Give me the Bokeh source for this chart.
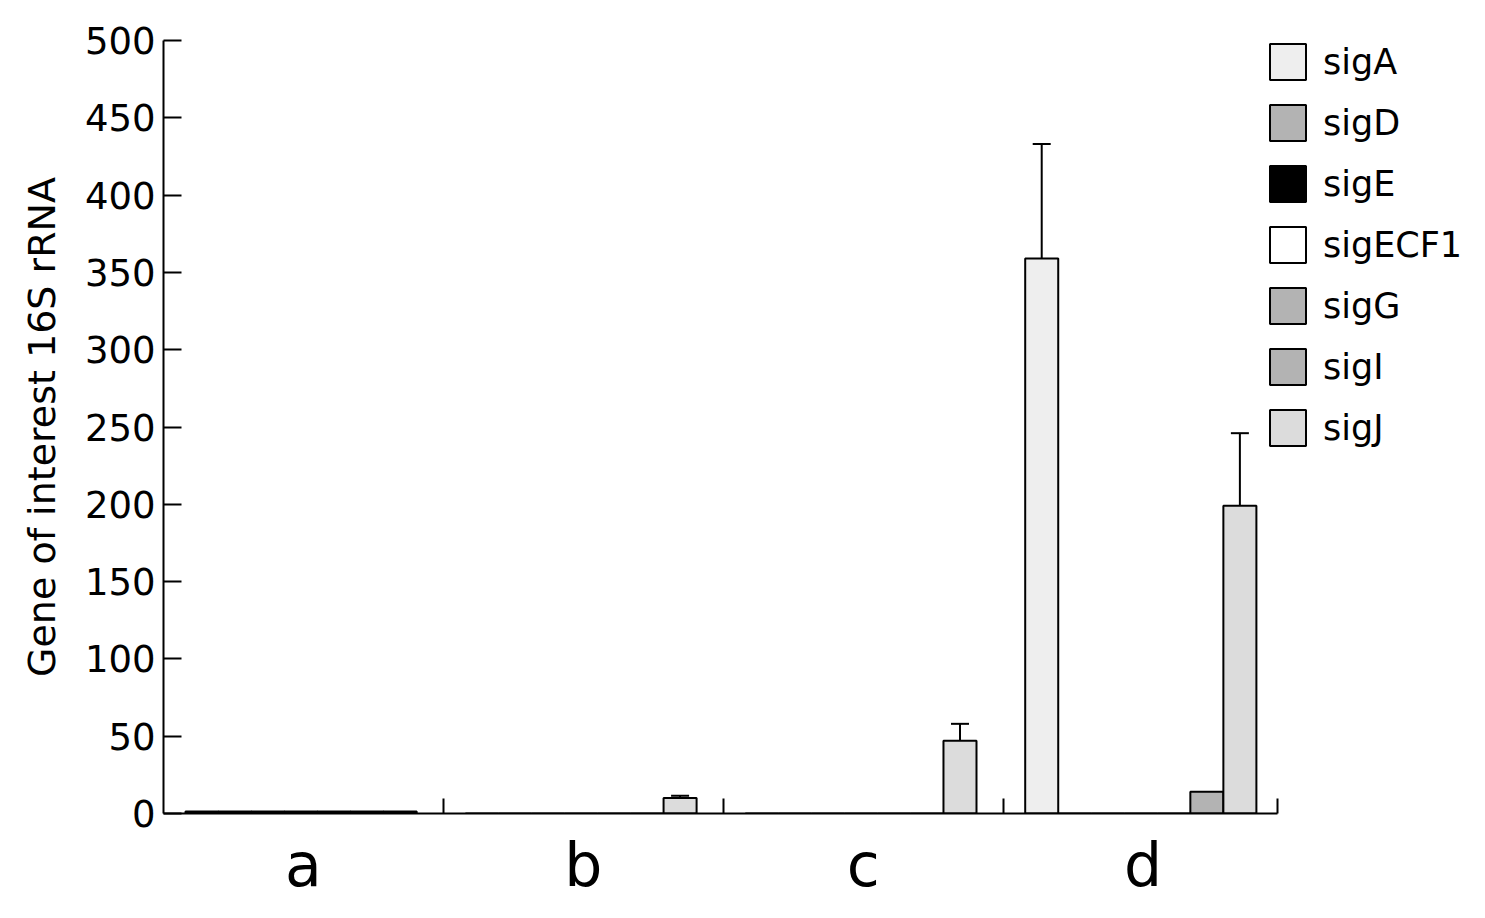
from bokeh.plotting import figure
from bokeh.models import (ColumnDataSource, FixedTicker, LinearAxis, Range1d,
                          Legend, LegendItem, Whisker)
from bokeh.embed import file_html
from bokeh.resources import INLINE

groups = ["a", "b", "c", "d"]
series = ["sigA", "sigD", "sigE", "sigECF1", "sigG", "sigI", "sigJ"]
colors = ["#eeeeee", "#b3b3b3", "#000000", "#ffffff", "#b3b3b3", "#b3b3b3", "#dcdcdc"]

# values[series][group]
sigA = [1.3, 0.0, 0.0, 359.0]
sigD = [1.3, 0.0, 0.0, 0.0]
sigE = [1.3, 0.0, 0.0, 0.0]
sigECF1 = [1.3, 0.0, 0.0, 0.0]
sigG = [1.3, 0.0, 0.0, 0.0]
sigI = [1.3, 0.0, 0.0, 14.0]
sigJ = [1.3, 10.0, 47.0, 199.0]
values = [sigA, sigD, sigE, sigECF1, sigG, sigI, sigJ]

# upper error (SD) values
err_sigA = [0.0, 0.0, 0.0, 74.0]
err_sigJ = [0.0, 1.5, 11.0, 47.0]

y_ticks = [0, 50, 100, 150, 200, 250, 300, 350, 400, 450, 500]

FONT = "DejaVu Sans"
W, H = 1469, 902
LEFT, TOP, BOTTOM = 163, 40, 89
PX_PER_GROUP = 279.9
x_end = (W - LEFT) / PX_PER_GROUP

p = figure(width=W, height=H, output_backend="svg", toolbar_location=None,
           x_range=Range1d(0, x_end), y_range=Range1d(0, 500),
           min_border_left=LEFT, min_border_right=0, min_border_top=TOP,
           min_border_bottom=BOTTOM, x_axis_location=None, y_axis_location=None)
p.grid.visible = False
p.outline_line_color = None
p.background_fill_color = "white"

pad = 0.0786
bw = 0.118

renderers = []
for i, (name, vals, col) in enumerate(zip(series, values, colors)):
    xs = [g + pad + bw * (i + 0.5) for g in range(len(groups))]
    src = ColumnDataSource(dict(x=xs, top=vals))
    r = p.vbar(x="x", top="top", bottom=0, width=bw, source=src,
               fill_color=col, line_color="black", line_width=2)
    renderers.append(r)

    errs = None
    if name == "sigA":
        errs = err_sigA
    elif name == "sigJ":
        errs = err_sigJ
    if errs is not None:
        ex, lo, up = [], [], []
        for x, v, e in zip(xs, vals, errs):
            if e > 0:
                ex.append(x); lo.append(v); up.append(v + e)
        esrc = ColumnDataSource(dict(x=ex, lower=lo, upper=up))
        wk = Whisker(base="x", lower="lower", upper="upper", source=esrc,
                     line_color="black", line_width=2, dimension="height")
        wk.lower_head = None
        wk.upper_head.size = 18
        wk.upper_head.line_width = 2
        wk.upper_head.line_color = "black"
        p.add_layout(wk)

# y axis
yax = LinearAxis(ticker=FixedTicker(ticks=y_ticks))
yax.axis_line_width = 2
yax.axis_line_color = "black"
yax.major_tick_line_width = 2
yax.major_tick_line_color = "black"
yax.major_tick_in = 18
yax.major_tick_out = 0
yax.minor_tick_line_color = None
yax.major_label_text_font = FONT
yax.major_label_text_font_size = "37px"
yax.major_label_text_color = "black"
yax.major_label_standoff = 8
yax.axis_label = "Gene of interest 16S rRNA"
yax.axis_label_text_font = FONT
yax.axis_label_text_font_size = "38px"
yax.axis_label_text_font_style = "normal"
yax.axis_label_text_color = "black"
yax.axis_label_standoff = 18
p.add_layout(yax, "left")

# x axis
xax = LinearAxis(ticker=FixedTicker(ticks=[0.5, 1.5, 2.5, 3.5],
                                    minor_ticks=[1, 2, 3, 3.98]),
                 bounds=(0, 3.98))
xax.major_label_overrides = {0.5: "a", 1.5: "b", 2.5: "c", 3.5: "d"}
xax.axis_line_width = 2
xax.axis_line_color = "black"
xax.major_tick_line_color = None
xax.minor_tick_line_width = 2
xax.minor_tick_line_color = "black"
xax.minor_tick_in = 15
xax.minor_tick_out = 0
xax.major_label_text_font = FONT
xax.major_label_text_font_size = "60px"
xax.major_label_text_color = "black"
xax.major_label_standoff = 10
p.add_layout(xax, "below")

legend = Legend(items=[LegendItem(label=n, renderers=[r]) for n, r in zip(series, renderers)],
                location=(1102, 363))
legend.glyph_width = 45
legend.glyph_height = 45
legend.label_text_font = FONT
legend.label_text_font_size = "35px"
legend.label_text_color = "black"
legend.label_standoff = 13
legend.label_height = 45
legend.spacing = 16
legend.padding = 10
legend.margin = 0
legend.border_line_color = None
legend.background_fill_alpha = 0
p.add_layout(legend, "center")

open("out.html", "w").write(file_html(p, INLINE))
